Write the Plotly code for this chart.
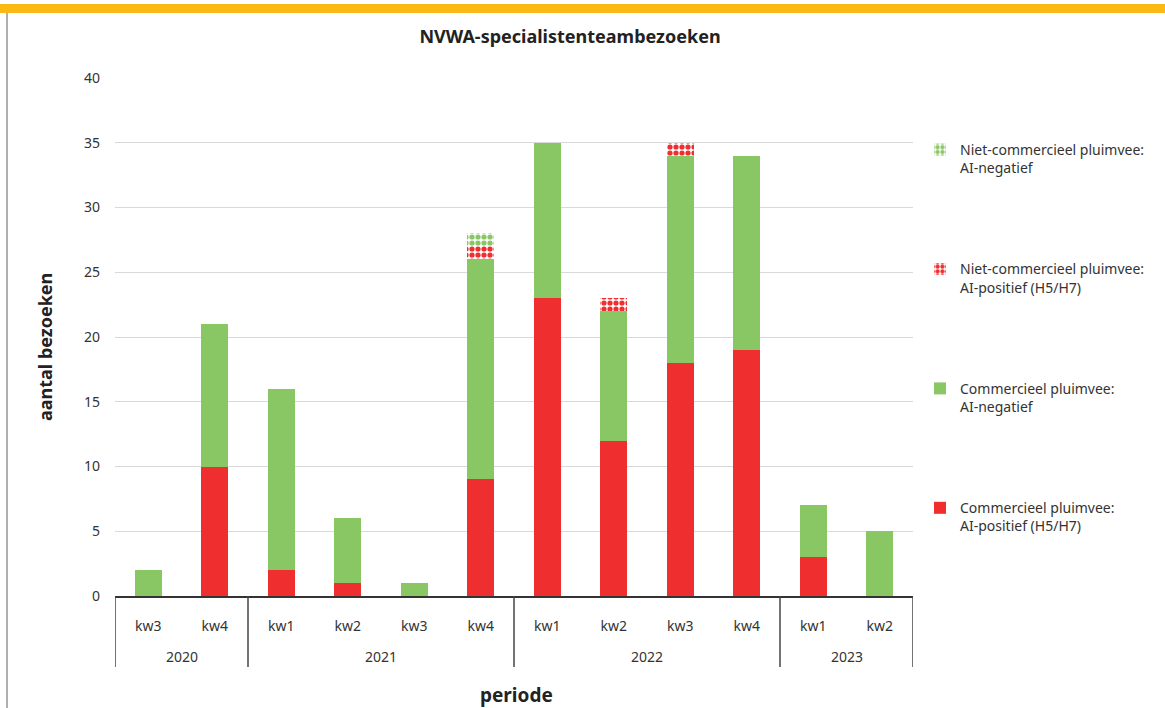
import plotly.graph_objects as go

years = ["2020", "2020", "2021", "2021", "2021", "2021", "2022", "2022", "2022", "2022", "2023", "2023"]
quarters = ["kw3", "kw4", "kw1", "kw2", "kw3", "kw4", "kw1", "kw2", "kw3", "kw4", "kw1", "kw2"]
year_labels = ["2020", "2021", "2022", "2023"]

comm_pos = [0, 10, 2, 1, 0, 9, 23, 12, 18, 19, 3, 0]
comm_neg = [2, 11, 14, 5, 1, 17, 12, 10, 16, 15, 4, 5]
nc_pos = [0, 0, 0, 0, 0, 1, 0, 1, 1, 0, 0, 0]
nc_neg = [0, 0, 0, 0, 0, 1, 0, 0, 0, 0, 0, 0]

names = [
    "Commercieel pluimvee:<br>AI-positief (H5/H7)",
    "Commercieel pluimvee:<br>AI-negatief",
    "Niet-commercieel pluimvee:<br>AI-positief (H5/H7)",
    "Niet-commercieel pluimvee:<br>AI-negatief",
]

RED = "#EE2E2F"
GREEN = "#88C764"
FONT = "Noto Sans"
DARK = "#222222"

cats = [f"{y} {q}" for y, q in zip(years, quarters)]

fig = go.Figure()
series = [comm_pos, comm_neg, nc_pos, nc_neg]
ranks = [4, 3, 2, 1]
for i, (vals, name) in enumerate(zip(series, names)):
    color = RED if i in (0, 2) else GREEN
    marker = dict(color=color, line=dict(width=0))
    if i >= 2:
        marker = dict(
            color="white",
            line=dict(width=0),
            pattern=dict(shape=".", fgcolor=color, bgcolor="white",
                         size=6, solidity=0.6, fillmode="replace"),
        )
    fig.add_trace(go.Bar(
        x=cats, y=vals, name=name, marker=marker,
        legendgroup=f"g{i}", legendrank=ranks[i], width=0.4,
    ))

W, H = 1165, 708
L, R, T, B = 115, 913, 78, 596
pw, ph = R - L, B - T

def px(x):
    return (x - L) / pw

def py(y):
    return (B - y) / ph

shapes = [
    dict(type="rect", xref="paper", yref="paper", x0=px(0), x1=px(W), y0=py(13), y1=py(4),
         fillcolor="#FDB913", line=dict(width=0), layer="above"),
    dict(type="line", xref="paper", yref="paper", x0=px(7), x1=px(7), y0=py(13), y1=py(H),
         line=dict(color="#AFAFAF", width=2)),
]

# group dividers on the x axis
bounds = [-0.5]
for i in range(1, len(years)):
    if years[i] != years[i - 1]:
        bounds.append(i - 0.5)
bounds.append(len(years) - 0.5)
for b in bounds:
    shapes.append(dict(type="line", xref="x", yref="paper", x0=b, x1=b, y0=0, y1=py(667),
                       line=dict(color="#444444", width=1.5)))

annotations = []
for k, yl in enumerate(year_labels):
    idx = [i for i, y in enumerate(years) if y == yl]
    center = (idx[0] + idx[-1]) / 2
    annotations.append(dict(xref="x", yref="paper", x=center, y=py(656), text=yl,
                            showarrow=False, xanchor="center", yanchor="middle",
                            font=dict(size=14, color="#333333")))
annotations.append(dict(xref="paper", yref="paper", x=px(516), y=py(695), text="<b>periode</b>",
                        showarrow=False, xanchor="center", yanchor="middle",
                        font=dict(size=19, color=DARK)))
annotations.append(dict(xref="paper", yref="paper", x=px(45), y=py(347), text="<b>aantal bezoeken</b>",
                        showarrow=False, xanchor="center", yanchor="middle", textangle=-90,
                        font=dict(size=18, color=DARK)))

fig.update_layout(
    width=W, height=H,
    margin=dict(l=L, r=W - R, t=T, b=H - B),
    paper_bgcolor="white", plot_bgcolor="white",
    barmode="stack",
    font=dict(family=FONT, size=13, color="#333333"),
    title=dict(text="<b>NVWA-specialistenteambezoeken</b>", x=570 / W, xanchor="center",
               y=1 - 37 / H, yanchor="middle", font=dict(size=18, color=DARK)),
    yaxis=dict(range=[0, 40], dtick=5, showgrid=True, gridcolor="#D9D9D9", gridwidth=1,
               zeroline=False, ticks="", ticklabelstandoff=14, tickfont=dict(size=14)),
    xaxis=dict(type="category", tickvals=cats, ticktext=quarters,
               showline=True, linecolor="#333333", linewidth=1.5, ticks="",
               ticklabelstandoff=16, tickfont=dict(size=14), range=[-0.5, 11.5]),
    legend=dict(x=px(920), xanchor="left", y=py(134), yanchor="top",
                traceorder="grouped", tracegroupgap=80, valign="top",
                font=dict(size=14, color="#333333")),
    shapes=shapes,
    annotations=annotations,
)

fig.write_html("out.html", config={"displayModeBar": False},
               post_script="document.body.style.margin='0px';")
